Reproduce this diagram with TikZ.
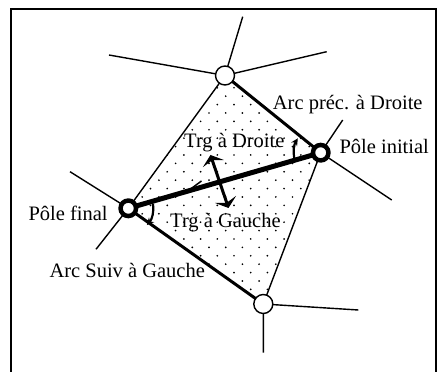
\documentclass[tikz,border=0pt]{standalone}
\usepackage{fontspec}
\setmainfont{Liberation Serif}
\usetikzlibrary{arrows.meta}
\begin{document}
\begin{tikzpicture}[x=1pt,y=1pt,
  thincirc/.style={circle,draw,fill=white,line width=1.4pt,minimum size=19pt,inner sep=0pt},
  thickcirc/.style={circle,draw,fill=white,line width=4.5pt,minimum size=15.5pt,inner sep=0pt},
  thinline/.style={line width=1.4pt},
  boldline/.style={line width=3pt},
  heavyline/.style={line width=5pt},
  lbl/.style={anchor=base west,inner sep=0pt,font=\fontsize{20.5}{24}\selectfont}]
\useasboundingbox (0,0) rectangle (437,372);
% frame
\draw[line width=1.6pt] (11,-5) -- (11,363) -- (436,363) -- (436,-5);
% vertex positions
\coordinate (Tc) at (225,296.5);
\coordinate (Rc) at (320.7,219.3);
\coordinate (Lc) at (128.3,163.7);
\coordinate (Bc) at (263.3,68);
% dotted fill
\begin{scope}
\clip (Tc) -- (Rc) -- (Bc) -- (Lc) -- cycle;
\foreach \m in {-6,...,11}{
  \foreach \k in {-8,...,7}{
    \fill (234+16.7*\k,133+16.8*\m) circle[radius=0.95pt];
    \fill (225.7+16.7*\k,124.6+16.8*\m) circle[radius=0.95pt];
  }}
\end{scope}
% free ends
\coordinate (tu) at (242.7,355.3);
\coordinate (tl) at (109,317);
\coordinate (tr) at (326.7,320.3);
\coordinate (ru) at (342.7,252);
\coordinate (rd) at (391.7,172);
\coordinate (lu) at (70,200.3);
\coordinate (ld) at (96,122.7);
\coordinate (br) at (358.3,62);
\coordinate (bd) at (263.3,19.3);
% outer lines
\draw[thinline] (Tc) -- (tu) (Tc) -- (tl) (Tc) -- (tr);
\draw[thinline] (Rc) -- (ru) (Rc) -- (rd);
\draw[thinline] (Lc) -- (lu) (Lc) -- (ld);
\draw[thinline] (Bc) -- (br) (Bc) -- (bd);
% quadrilateral
\draw[boldline] (Tc) -- (Rc);
\draw[boldline] (Bc) -- (Lc);
\draw[thinline] (Rc) -- (Bc);
\draw[thinline] (Lc) -- (Tc);
\draw[heavyline] (Lc) -- (Rc);
% nodes
\node[thincirc] (T) at (Tc) {};
\node[thincirc] (B) at (Bc) {};
\node[thickcirc] (R) at (Rc) {};
\node[thickcirc] (L) at (Lc) {};
% harpoon barb on L-R line
\coordinate (hb1) at (191,183.3);
\coordinate (hb2) at (201.5,191);
\draw[line width=1.5pt] (hb1) -- (hb2);
% double arrow
\coordinate (da1) at (210.5,217);
\coordinate (da2) at (228.5,164);
\draw[line width=3pt,{Stealth[length=9pt,width=22pt,inset=3.5pt]}-{Stealth[length=9pt,width=22pt,inset=3.5pt]}] (da1) -- (da2);
% curved arrows
\draw[line width=2.2pt,-{Stealth[length=7pt,width=7pt]}] ([shift={(192:27pt)}]Rc) arc[start angle=192,end angle=148,radius=27pt];
\draw[line width=2.2pt,-{Stealth[length=7pt,width=7pt]}] ([shift={(10:25pt)}]Lc) arc[start angle=10,end angle=-42,radius=25pt];
% labels
\node[lbl] (l1) at (272.7,262.7) {Arc préc. à Droite};
\node[lbl] (l2) at (184,224.7) {Trg à Droite};
\node[lbl] (l3) at (339.3,218) {Pôle initial};
\node[lbl] (l4) at (28.3,151.3) {Pôle final};
\node[lbl] (l5) at (170,144.3) {Trg à Gauche};
\node[lbl] (l6) at (49.3,94.3) {Arc Suiv à Gauche};
\end{tikzpicture}
\end{document}
